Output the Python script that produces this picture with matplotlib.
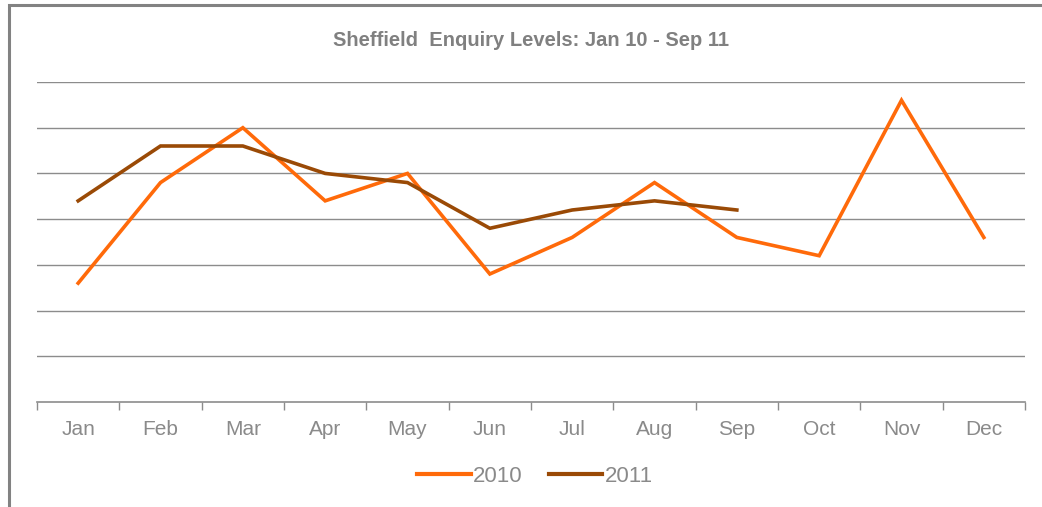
import matplotlib
matplotlib.use("Agg")
import matplotlib.pyplot as plt
from matplotlib.patches import Rectangle

months = ["Jan", "Feb", "Mar", "Apr", "May", "Jun", "Jul", "Aug", "Sep", "Oct", "Nov", "Dec"]
enq_2010 = [2.6, 4.8, 6.0, 4.4, 5.0, 2.8, 3.6, 4.8, 3.6, 3.2, 6.6, 3.6]
enq_2011 = [4.4, 5.6, 5.6, 5.0, 4.8, 3.8, 4.2, 4.4, 4.2]

GRAY = "#8c8c8c"
TEXT = "#8a8a8a"
C2010 = "#ff6a0a"
C2011 = "#9a4a06"

plt.rcParams["font.family"] = ["Liberation Sans", "DejaVu Sans"]

fig = plt.figure(figsize=(10.42, 5.07), dpi=100)
# outer frame, only left and top edges show in the reference
fig.patches.append(Rectangle((9 / 1042, -0.1), 1.2, 1 - 5 / 507 + 0.1,
                             transform=fig.transFigure, fill=False,
                             edgecolor="#828282", linewidth=2.2))

ax = fig.add_axes([37 / 1042, 1 - 402 / 507, (1025 - 37) / 1042, (402 - 82) / 507])
x = list(range(len(months)))
ax.plot(x, enq_2010, color=C2010, lw=2.6, label="2010", solid_joinstyle="miter")
ax.plot(x[:len(enq_2011)], enq_2011, color=C2011, lw=2.6, label="2011", solid_joinstyle="miter")

ax.set_xlim(-0.5, len(months) - 0.5)
ax.set_ylim(0, 7)
ax.set_yticks(range(1, 8))
ax.yaxis.grid(True, color=GRAY, lw=1)
ax.set_axisbelow(True)
ax.tick_params(axis="y", left=False, labelleft=False)

ax.set_xticks(x)
ax.set_xticklabels(months, color=TEXT, fontsize=15)
ax.set_xticks([i - 0.5 for i in range(len(months) + 1)], minor=True)
ax.tick_params(axis="x", which="major", length=0, pad=13)
ax.tick_params(axis="x", which="minor", length=6, color=GRAY, width=1)

for side in ["left", "right", "top"]:
    ax.spines[side].set_visible(False)
ax.spines["bottom"].set_color(GRAY)
ax.spines["bottom"].set_linewidth(1.2)

fig.text(531 / 1042, 1 - 40 / 507, "Sheffield  Enquiry Levels: Jan 10 - Sep 11",
         ha="center", va="center", fontsize=14.5, fontweight="bold", color="#808080")

leg = fig.legend(loc="center", bbox_to_anchor=(535 / 1042, 1 - 476 / 507), ncol=2,
                 frameon=False, fontsize=16, handlelength=2.4, handletextpad=0.1,
                 columnspacing=1.2)
for line in leg.get_lines():
    line.set_linewidth(3)
for t in leg.get_texts():
    t.set_color(TEXT)

fig.savefig("out.png", dpi=100)
